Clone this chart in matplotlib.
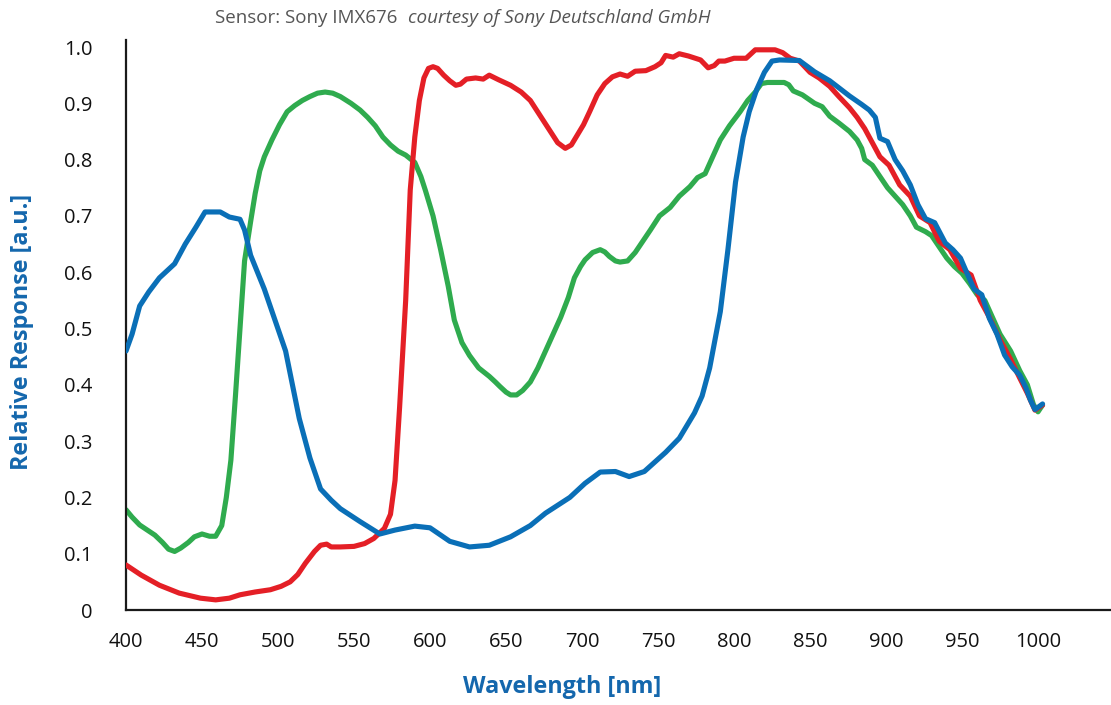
import matplotlib
matplotlib.use("Agg")
import matplotlib.pyplot as plt

# ---- data: (wavelength nm, relative response) ----
blue_pts = [
    (400, 0.46), (404, 0.49), (409, 0.54), (415, 0.565), (422, 0.59), (432, 0.615),
    (439, 0.65), (446, 0.68), (452, 0.707), (458, 0.707), (462, 0.707), (468, 0.698),
    (475, 0.694), (478, 0.675), (482, 0.63), (491, 0.57), (505, 0.46), (514, 0.34),
    (521, 0.27), (528, 0.215), (535, 0.195), (541, 0.18), (554, 0.157), (567, 0.135),
    (577, 0.142), (590, 0.149), (600, 0.146), (613, 0.122), (626, 0.112), (639, 0.115),
    (653, 0.13), (666, 0.15), (676, 0.172), (692, 0.2), (702, 0.225), (712, 0.245),
    (722, 0.246), (731, 0.237), (741, 0.246), (755, 0.28), (764, 0.305), (774, 0.35),
    (779, 0.38), (784, 0.43), (791, 0.53), (796, 0.64), (801, 0.76), (806, 0.84),
    (810, 0.885), (815, 0.925), (820, 0.955), (825, 0.975), (830, 0.977), (843, 0.976),
    (853, 0.956), (863, 0.94), (876, 0.913), (884, 0.898), (889, 0.888), (893, 0.875),
    (896, 0.838), (901, 0.832), (906, 0.8), (911, 0.78), (916, 0.755), (921, 0.72),
    (926, 0.695), (932, 0.688), (939, 0.652), (944, 0.64), (949, 0.625), (953, 0.6),
    (958, 0.57), (963, 0.56), (968, 0.518), (973, 0.49), (978, 0.453), (983, 0.432),
    (988, 0.417), (992, 0.395), (995, 0.373), (998, 0.356), (1003, 0.366),
]

red_pts = [
    (400, 0.08), (410, 0.062), (422, 0.044), (435, 0.03), (449, 0.021), (459, 0.018),
    (468, 0.021), (475, 0.027), (485, 0.032), (495, 0.036), (502, 0.042), (508, 0.05),
    (513, 0.063), (518, 0.083), (524, 0.104), (528, 0.115), (532, 0.117), (535, 0.112),
    (541, 0.112), (550, 0.113), (557, 0.118), (563, 0.127), (570, 0.145), (574, 0.17),
    (577, 0.23), (580, 0.36), (584, 0.55), (587, 0.746), (590, 0.84), (593, 0.905),
    (596, 0.945), (599, 0.962), (602, 0.965), (605, 0.962), (609, 0.95), (613, 0.94),
    (617, 0.932), (620, 0.934), (624, 0.943), (630, 0.945), (635, 0.943), (639, 0.95),
    (645, 0.942), (653, 0.932), (660, 0.92), (666, 0.905), (672, 0.88), (678, 0.855),
    (684, 0.83), (689, 0.82), (693, 0.826), (697, 0.844), (701, 0.862), (705, 0.885),
    (710, 0.915), (715, 0.935), (720, 0.947), (725, 0.952), (730, 0.948), (735, 0.957),
    (742, 0.958), (748, 0.965), (752, 0.972), (755, 0.985), (760, 0.982), (764, 0.988),
    (770, 0.984), (778, 0.977), (783, 0.963), (787, 0.967), (790, 0.975), (794, 0.975),
    (800, 0.98), (808, 0.98), (814, 0.995), (820, 0.995), (827, 0.995), (832, 0.99),
    (837, 0.98), (843, 0.975), (850, 0.955), (856, 0.945), (863, 0.93), (869, 0.912),
    (876, 0.892), (881, 0.875), (886, 0.855), (891, 0.83), (896, 0.805), (902, 0.79),
    (909, 0.755), (916, 0.735), (922, 0.7), (929, 0.688), (935, 0.655), (942, 0.64),
    (949, 0.607), (956, 0.595), (962, 0.55), (968, 0.52), (975, 0.48), (982, 0.445),
    (988, 0.412), (993, 0.385), (998, 0.355), (1003, 0.364),
]

green_pts = [
    (400, 0.178), (404, 0.165), (409, 0.151), (414, 0.142), (419, 0.133), (424, 0.12),
    (428, 0.108), (432, 0.104), (436, 0.11), (441, 0.12), (445, 0.13), (450, 0.135),
    (455, 0.131), (459, 0.131), (463, 0.15), (466, 0.2), (469, 0.266), (472, 0.38),
    (475, 0.5), (478, 0.62), (482, 0.69), (485, 0.74), (488, 0.78), (491, 0.805),
    (496, 0.835), (501, 0.862), (506, 0.885), (511, 0.896), (516, 0.905), (521, 0.912),
    (526, 0.918), (531, 0.92), (536, 0.918), (541, 0.912), (548, 0.9), (554, 0.888),
    (559, 0.875), (564, 0.86), (569, 0.84), (574, 0.826), (579, 0.815), (584, 0.808),
    (590, 0.795), (594, 0.77), (597, 0.745), (602, 0.7), (607, 0.64), (612, 0.575),
    (616, 0.515), (621, 0.475), (626, 0.452), (632, 0.43), (639, 0.415), (643, 0.405),
    (646, 0.397), (650, 0.387), (653, 0.382), (657, 0.382), (661, 0.39), (666, 0.405),
    (671, 0.43), (676, 0.46), (681, 0.49), (686, 0.52), (691, 0.555), (695, 0.59),
    (699, 0.61), (702, 0.622), (707, 0.635), (712, 0.64), (715, 0.636), (718, 0.628),
    (722, 0.62), (725, 0.618), (730, 0.62), (735, 0.635), (740, 0.655), (745, 0.675),
    (751, 0.7), (758, 0.715), (764, 0.735), (771, 0.752), (776, 0.768), (781, 0.775),
    (786, 0.805), (791, 0.835), (797, 0.86), (804, 0.885), (809, 0.905), (814, 0.92),
    (818, 0.935), (822, 0.937), (828, 0.937), (833, 0.937), (836, 0.933), (839, 0.922),
    (845, 0.915), (853, 0.9), (858, 0.894), (863, 0.877), (869, 0.865), (876, 0.85),
    (881, 0.835), (884, 0.82), (886, 0.8), (891, 0.79), (896, 0.77), (901, 0.75),
    (906, 0.735), (911, 0.72), (916, 0.7), (920, 0.68), (926, 0.672), (930, 0.665),
    (935, 0.645), (940, 0.625), (945, 0.61), (950, 0.598), (955, 0.58), (960, 0.56),
    (965, 0.55), (970, 0.52), (975, 0.49), (982, 0.46), (988, 0.425), (993, 0.4),
    (997, 0.365), (1000, 0.352), (1003, 0.364),
]

x_ticks = [400, 450, 500, 550, 600, 650, 700, 750, 800, 850, 900, 950, 1000]
y_ticks = [0, 0.1, 0.2, 0.3, 0.4, 0.5, 0.6, 0.7, 0.8, 0.9, 1.0]
y_tick_labels = ["0", "0.1", "0.2", "0.3", "0.4", "0.5", "0.6", "0.7", "0.8", "0.9", "1.0"]

BLUE = "#0a6fb7"
RED = "#e41f26"
GREEN = "#2fab4e"
LABEL_BLUE = "#1467ad"

plt.rcParams["font.family"] = ["Open Sans", "DejaVu Sans"]

fig = plt.figure(figsize=(11.11, 7.05), dpi=100)
ax = fig.add_axes([126 / 1111, 95 / 705, 985 / 1111, 570 / 705])

lw = 3.7
for pts, col, z in [(green_pts, GREEN, 2), (red_pts, RED, 3), (blue_pts, BLUE, 4)]:
    xs = [p[0] for p in pts]
    ys = [p[1] for p in pts]
    ax.plot(xs, ys, color=col, lw=lw, solid_capstyle="round",
            solid_joinstyle="round", zorder=z)

ax.set_xlim(400, 400 + 985 / 1.52)
ax.set_ylim(0, 570 / 563)

for s in ["top", "right"]:
    ax.spines[s].set_visible(False)
for s in ["left", "bottom"]:
    ax.spines[s].set_linewidth(1.6)
    ax.spines[s].set_color("#1a1a1a")

ax.set_xticks(x_ticks)
ax.set_xticklabels([str(v) for v in x_ticks])
ax.set_yticks(y_ticks)
ax.set_yticklabels(y_tick_labels)
ax.tick_params(axis="both", length=0, labelsize=14.5, colors="#111111")
ax.tick_params(axis="y", pad=24)
ax.tick_params(axis="x", pad=16)

fig.text(22 / 1111, 1 - 332 / 705, "Relative Response [a.u.]", rotation=90,
         ha="center", va="center", color=LABEL_BLUE, fontsize=16.8, fontweight="bold")
fig.text(562 / 1111, 1 - 687 / 705, "Wavelength [nm]", ha="center", va="center",
         color=LABEL_BLUE, fontsize=16.8, fontweight="bold")

fig.text(215 / 1111, 1 - 18 / 705, "Sensor: Sony IMX676", ha="left", va="center",
         color="#555555", fontsize=13.5)
fig.text(408 / 1111, 1 - 18 / 705, "courtesy of Sony Deutschland GmbH", ha="left", va="center",
         color="#555555", fontsize=13.6, style="italic")

fig.savefig("out.png", dpi=100, facecolor="white")
